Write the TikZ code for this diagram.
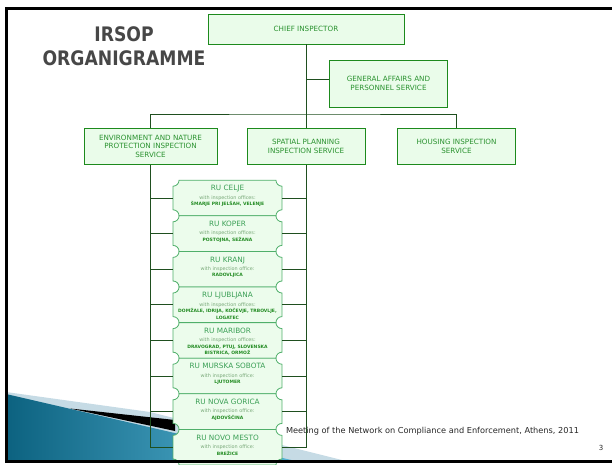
\documentclass[tikz,border=0pt]{standalone}
\usepackage{fontspec}
\setmainfont{DejaVu Sans}
\newfontfamily\titlefont[FakeStretch=0.86]{DejaVu Sans}
\pgfdeclarelayer{deco}
\pgfdeclarelayer{plaques}
\pgfsetlayers{deco,plaques,main}

\definecolor{hdrfill}{HTML}{EAFCEA}
\definecolor{hdrdraw}{HTML}{1D8A1D}
\definecolor{hdrtext}{HTML}{2A922F}
\definecolor{rufill}{HTML}{ECFCEC}
\definecolor{rudraw}{HTML}{4FAF6A}
\definecolor{rutitle}{HTML}{3A9F55}
\definecolor{rusub}{HTML}{78A878}
\definecolor{ruoff}{HTML}{228B22}
\definecolor{linkgreen}{HTML}{1F4F1F}
\definecolor{titlegray}{HTML}{474747}
\definecolor{banddots}{HTML}{C6DBE5}
\definecolor{tealdark}{HTML}{0C6280}
\definecolor{teallight}{HTML}{5BB8D8}

\tikzset{
  hdrbox/.style={draw=hdrdraw, fill=hdrfill, line width=0.8pt, text=hdrtext,
    align=center, inner sep=0pt, font=\fontsize{7.2}{8.7}\selectfont},
  rubox/.style={minimum width=108.5pt, minimum height=35.2pt, inner sep=0pt,
    text=rutitle},
  plaqueline/.style={draw=rudraw, fill=rufill, line width=0.8pt},
  link/.style={draw=linkgreen, line width=0.8pt},
}

% text of a regional unit box
\newcommand\rutext[3]{\parbox[c][25pt][t]{106pt}{\centering
  {\fontsize{7.3}{8.4}\selectfont #1\par}
  {\color{rusub}\fontsize{4.9}{8.4}\selectfont with inspection #2:\par}
  {\color{ruoff}\bfseries\fontsize{4.5}{6.5}\selectfont #3\par}}}

\begin{document}
\begin{tikzpicture}[x=1pt,y=1pt]
  \useasboundingbox (0,0) rectangle (612,464);

  % Corner decoration
  \begin{pgfonlayer}{deco}
    \fill[banddots] (6,72) -- (150,52) -- (350,2) -- (6,2) -- cycle;
    \shade[left color=tealdark, right color=teallight] (6,70) -- (300,2) -- (6,2) -- cycle;
    \fill[black] (70,55.5) -- (175,44) -- (175,33) -- cycle;
  \end{pgfonlayer}

  % Title
  \node[text=titlegray, align=center, font=\titlefont\bfseries\fontsize{20}{23.5}\selectfont]
    (title) at (124,418) {IRSOP\\ORGANIGRAMME};

  % Head and services
  \node[hdrbox, minimum width=196pt, minimum height=30pt] (chief) at (306,435) {CHIEF INSPECTOR};
  \node[hdrbox, minimum width=118.4pt, minimum height=47.3pt] (general) at (388.5,380.4)
    {GENERAL AFFAIRS AND\\PERSONNEL SERVICE};
  \node[hdrbox, minimum width=133pt, minimum height=36pt] (env) at (150.5,317.7)
    {ENVIRONMENT AND NATURE\\PROTECTION INSPECTION\\SERVICE};
  \node[hdrbox, minimum width=118pt, minimum height=36pt] (spatial) at (306,317.7)
    {SPATIAL PLANNING\\INSPECTION SERVICE};
  \node[hdrbox, minimum width=118.4pt, minimum height=36pt] (housing) at (456.5,317.7)
    {HOUSING INSPECTION\\SERVICE};
  \coordinate (bus) at (306,350);

  % Regional units
  \node[rubox] (ru1) at (227.5,266.0) {\rutext{RU CELJE}{offices}{ŠMARJE PRI JELŠAH, VELENJE}};
  \node[rubox] (ru2) at (227.5,230.4) {\rutext{RU KOPER}{offices}{POSTOJNA, SEŽANA}};
  \node[rubox] (ru3) at (227.5,194.8) {\rutext{RU KRANJ}{office}{RADOVLJICA}};
  \node[rubox] (ru4) at (227.5,159.2) {\rutext{RU LJUBLJANA}{offices}{DOMŽALE, IDRIJA, KOČEVJE, TRBOVLJE,\\LOGATEC}};
  \node[rubox] (ru5) at (227.5,123.6) {\rutext{RU MARIBOR}{offices}{DRAVOGRAD, PTUJ, SLOVENSKA\\BISTRICA, ORMOŽ}};
  \node[rubox] (ru6) at (227.5,88.0) {\rutext{RU MURSKA SOBOTA}{office}{LJUTOMER}};
  \node[rubox] (ru7) at (227.5,52.4) {\rutext{RU NOVA GORICA}{office}{AJDOVŠČINA}};
  \node[rubox] (ru8) at (227.5,16.8) {\rutext{RU NOVO MESTO}{office}{BREŽICE}};

  \begin{pgfonlayer}{plaques}
    \foreach \i in {1,...,8}
      \draw[plaqueline] ([xshift=6pt]ru\i.north west) -- ([xshift=-6pt]ru\i.north east)
        arc[start angle=180, end angle=270, radius=6pt] -- ([yshift=6pt]ru\i.south east)
        arc[start angle=90, end angle=180, radius=6pt] -- ([xshift=6pt]ru\i.south west)
        arc[start angle=0, end angle=90, radius=6pt] -- ([yshift=-6pt]ru\i.north west)
        arc[start angle=270, end angle=360, radius=6pt] -- cycle;
  \end{pgfonlayer}

  % Connectors
  \draw[link] (chief.south) -- (spatial.north);
  \draw[link] (chief.south |- general.west) ++(0,4.5) -- ([yshift=4.5pt]general.west);
  \draw[link] (env.north) |- (bus) -| (housing.north);
  \draw[link] (env.south) |- (ru8.west);
  \draw[link] (spatial.south) |- (ru8.east);
  \foreach \i in {1,...,7} {
    \draw[link] (env.south |- ru\i.west) -- (ru\i.west);
    \draw[link] (spatial.south |- ru\i.east) -- (ru\i.east);
  }

  % Footer
  \node[anchor=west, text=black!85, font=\fontsize{8.2}{10}\selectfont] (meeting) at (282.5,32.3)
    {Meeting of the Network on Compliance and Enforcement, Athens, 2011};
  \node[text=black!85, font=\fontsize{7}{8}\selectfont] (pagenum) at (601,16) {3};

  % Slide frame
  \draw[line width=3pt] (613,455.3) -- (6.7,455.3) -- (6.7,2.5) -- (613,2.5);
\end{tikzpicture}
\end{document}
